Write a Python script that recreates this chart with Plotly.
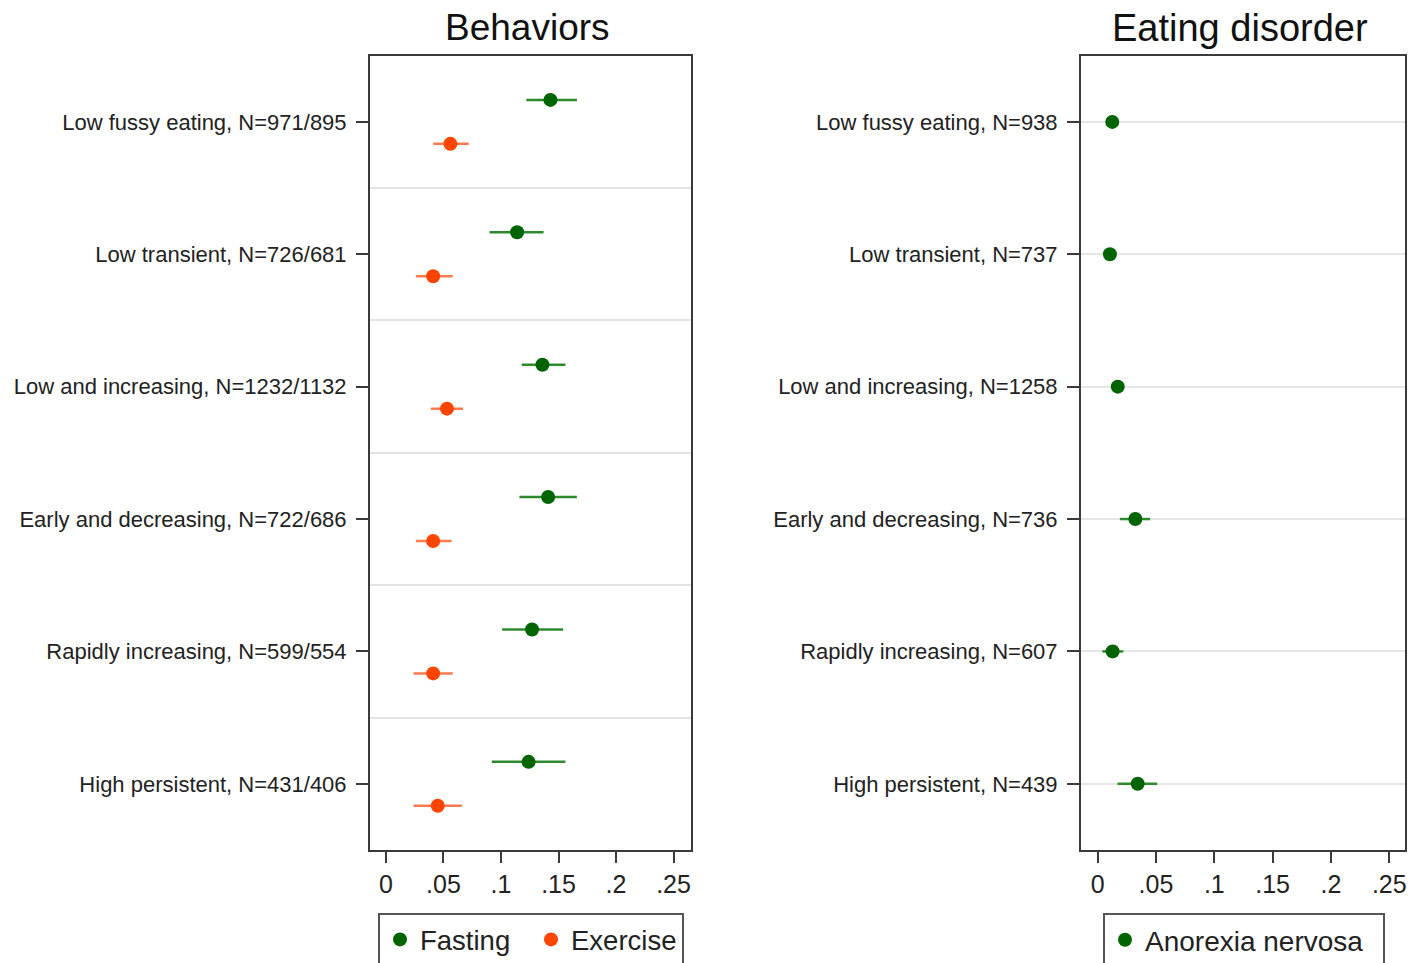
import numpy as np
import plotly.graph_objects as go

# ---------------- data ----------------
beh_labels = ["Low fussy eating, N=971/895", "Low transient, N=726/681",
              "Low and increasing, N=1232/1132", "Early and decreasing, N=722/686",
              "Rapidly increasing, N=599/554", "High persistent, N=431/406"]
ed_labels = ["Low fussy eating, N=938", "Low transient, N=737",
             "Low and increasing, N=1258", "Early and decreasing, N=736",
             "Rapidly increasing, N=607", "High persistent, N=439"]

fasting_est = [0.143, 0.114, 0.136, 0.141, 0.127, 0.124]
fasting_lo = [0.122, 0.090, 0.118, 0.116, 0.101, 0.092]
fasting_hi = [0.166, 0.137, 0.156, 0.166, 0.154, 0.156]

exercise_est = [0.056, 0.041, 0.053, 0.041, 0.041, 0.045]
exercise_lo = [0.041, 0.026, 0.039, 0.026, 0.024, 0.024]
exercise_hi = [0.072, 0.058, 0.067, 0.057, 0.058, 0.066]

an_est = [0.0125, 0.0105, 0.0172, 0.0323, 0.0128, 0.0343]
an_lo = [0.008, 0.006, 0.012, 0.019, 0.004, 0.017]
an_hi = [0.017, 0.015, 0.022, 0.045, 0.022, 0.051]

x_ticks = [0, 0.05, 0.1, 0.15, 0.2, 0.25]
x_ticklabels = ["0", ".05", ".1", ".15", ".2", ".25"]

# ---------------- styles / layout helpers ----------------
GREEN = "#006400"
GREEN_CI = "#2f8a2f"
ORANGE = "#ff4500"
ORANGE_CI = "#ff7a4f"
FONT = "Liberation Sans"
AXC = "#3a3a3a"

W, H = 1411, 963

def px(x):
    return x / W

def py(y):
    return 1 - y / H

rows = np.arange(1, len(beh_labels) + 1)
off = 0.166

def err(est, lo, hi):
    est, lo, hi = map(np.array, (est, lo, hi))
    return hi - est, est - lo

fig = go.Figure()

p, m = err(fasting_est, fasting_lo, fasting_hi)
fig.add_trace(go.Scatter(
    x=fasting_est, y=rows - off, mode="markers", name="Fasting",
    marker=dict(color=GREEN, size=14),
    error_x=dict(type="data", symmetric=False, array=p, arrayminus=m,
                 width=0, thickness=2.5, color=GREEN_CI),
    xaxis="x", yaxis="y", legend="legend"))

p, m = err(exercise_est, exercise_lo, exercise_hi)
fig.add_trace(go.Scatter(
    x=exercise_est, y=rows + off, mode="markers", name="Exercise",
    marker=dict(color=ORANGE, size=14),
    error_x=dict(type="data", symmetric=False, array=p, arrayminus=m,
                 width=0, thickness=2.5, color=ORANGE_CI),
    xaxis="x", yaxis="y", legend="legend"))

p, m = err(an_est, an_lo, an_hi)
fig.add_trace(go.Scatter(
    x=an_est, y=rows, mode="markers", name="Anorexia nervosa",
    marker=dict(color=GREEN, size=14),
    error_x=dict(type="data", symmetric=False, array=p, arrayminus=m,
                 width=0, thickness=2.5, color=GREEN_CI),
    xaxis="x2", yaxis="y2", legend="legend2"))

top = py(55.7)
bot = py(850)

xcommon = dict(tickvals=x_ticks, ticktext=x_ticklabels, showgrid=False,
               zeroline=False, showline=True, linecolor=AXC, linewidth=2,
               mirror=True, ticks="outside", ticklen=11, tickwidth=2,
               tickcolor=AXC, tickfont=dict(family=FONT, size=25, color="#222"))
ycommon = dict(range=[6.5, 0.5], tickvals=list(rows), zeroline=False,
               showline=True, linecolor=AXC, linewidth=2, mirror=True,
               ticks="outside", ticklen=12, tickwidth=2, tickcolor=AXC,
               ticklabelstandoff=5,
               tickfont=dict(family=FONT, size=22, color="#222"))

fig.update_layout(
    width=W, height=H,
    margin=dict(l=0, r=0, t=0, b=0, autoexpand=False),
    paper_bgcolor="white", plot_bgcolor="white",
    font=dict(family=FONT, color="#222"),
    xaxis=dict(domain=[px(370), px(691)], range=[-0.0139, 0.2652],
               anchor="y", **xcommon),
    yaxis=dict(domain=[bot, top], anchor="x", ticktext=beh_labels,
               showgrid=False,
               minor=dict(tickvals=list(rows[:-1] + 0.5), showgrid=True,
                          gridcolor="#e3e3e3", gridwidth=2, ticks=""),
               **ycommon),
    xaxis2=dict(domain=[px(1081), px(1405)], range=[-0.0143, 0.2635],
                anchor="y2", **xcommon),
    yaxis2=dict(domain=[bot, top], anchor="x2", ticktext=ed_labels,
                showgrid=True, gridcolor="#e6e6e6", gridwidth=2, **ycommon),
    legend=dict(orientation="h", x=px(378), xanchor="left",
                y=py(913), yanchor="top", bordercolor="#555",
                borderwidth=2, font=dict(family=FONT, size=27.5, color="#222"),
                entrywidth=106, entrywidthmode="pixels", bgcolor="white"),
    legend2=dict(orientation="h", x=px(1103), xanchor="left",
                 y=py(913), yanchor="top", bordercolor="#555",
                 borderwidth=2, font=dict(family=FONT, size=28, color="#222"),
                 entrywidth=233, entrywidthmode="pixels", bgcolor="white"),
    showlegend=True,
    annotations=[
        dict(text="Behaviors", x=px(527), y=py(28), xref="paper",
             yref="paper", showarrow=False, xanchor="center", yanchor="middle",
             font=dict(family=FONT, size=37, color="#111")),
        dict(text="Eating disorder", x=px(1240), y=py(28),
             xref="paper", yref="paper", showarrow=False, xanchor="center",
             yanchor="middle", font=dict(family=FONT, size=38, color="#111")),
    ],
)

fig.write_html(
    "out.html",
    config={"displayModeBar": False},
    post_script="document.body.style.margin='0';document.body.style.overflow='hidden';",
)
